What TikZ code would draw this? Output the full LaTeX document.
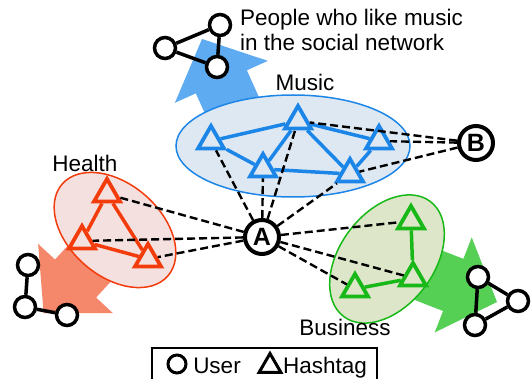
\documentclass[tikz,border=0pt]{standalone}
\usepackage{fontspec}
\setmainfont{Liberation Sans}
\usetikzlibrary{shapes.geometric}
\definecolor{musicline}{RGB}{28,134,232}
\definecolor{musicfill}{RGB}{222,232,243}
\definecolor{musicarrow}{RGB}{94,171,242}
\definecolor{healthline}{RGB}{242,60,12}
\definecolor{healthfill}{RGB}{244,225,223}
\definecolor{healtharrow}{RGB}{245,135,107}
\definecolor{businessline}{RGB}{23,184,23}
\definecolor{businessfill}{RGB}{222,230,201}
\definecolor{businessarrow}{RGB}{85,208,85}

\begin{document}
\begin{tikzpicture}[x=1pt,y=-1pt,
 hashtag/.style={regular polygon,regular polygon sides=3,draw,line width=3.8pt,inner sep=0pt,minimum size=30pt},
 user/.style={circle,draw,line width=3.5pt,fill=white,inner sep=0pt,minimum size=21pt},
 person/.style={circle,draw,line width=4pt,fill=white,inner sep=0pt,minimum size=34pt,font=\fontsize{25}{25}\selectfont\bfseries},
 follow/.style={dash pattern=on 8pt off 4pt,line width=2.4pt},
 cotag/.style={line width=3.5pt},
 title/.style={inner sep=0pt,font=\fontsize{22.5}{25}\selectfont}]
 \useasboundingbox (0,0) rectangle (532,379);
 \fill[musicarrow,shift={(202,39)},rotate=114.3] (0,0) -- (-47,51) -- (-47,28) -- (-115,28) -- (-115,-28) -- (-47,-28) -- (-47,-51) -- cycle;
 \fill[healtharrow,shift={(43.6,313)},rotate=-132.8] (0,0) -- (-47,51) -- (-47,28) -- (-115,28) -- (-115,-28) -- (-47,-28) -- (-47,-51) -- cycle;
 \fill[businessarrow,shift={(497,302)},rotate=-21.3] (0,0) -- (-47,51) -- (-47,28) -- (-115,28) -- (-115,-28) -- (-47,-28) -- (-47,-51) -- cycle;
 \draw[musicline,fill=musicfill,line width=1.5pt] (293,146) ellipse (117 and 51);
 \draw[healthline,fill=healthfill,line width=1.5pt,rotate around={-41:(115,230)}] (115,230) ellipse (70 and 46);
 \draw[businessline,fill=businessfill,line width=1.5pt,rotate around={53:(387,259)}] (387,259) ellipse (72 and 47);

 \node[user] (top1) at (220,25) {};
 \node[user] (top2) at (165,48) {};
 \node[user] (top3) at (217,67) {};
 \draw[cotag] (top1) -- (top2);
 \draw[cotag] (top2) -- (top3);
 \draw[cotag] (top1) -- (top3);
 \node[user] (left1) at (28,265) {};
 \node[user] (left2) at (25,307) {};
 \node[user] (left3) at (67,315) {};
 \draw[cotag] (left1) -- (left2);
 \draw[cotag] (left2) -- (left3);
 \node[user] (right1) at (478,277) {};
 \node[user] (right2) at (518,301) {};
 \node[user] (right3) at (475,325) {};
 \draw[cotag] (right1) -- (right2);
 \draw[cotag] (right1) -- (right3);
 \draw[cotag] (right3) -- (right2);

 \node[hashtag,musicline] (mu1) at (211,141) {};
 \node[hashtag,musicline] (mu2) at (298,121) {};
 \node[hashtag,musicline] (mu3) at (379,141) {};
 \node[hashtag,musicline] (mu4) at (263,169) {};
 \node[hashtag,musicline] (mu5) at (350,174) {};
 \node[hashtag,healthline] (he1) at (107,194) {};
 \node[hashtag,healthline] (he2) at (82,241) {};
 \node[hashtag,healthline] (he3) at (148,259) {};
 \node[hashtag,businessline] (bu1) at (411,221) {};
 \node[hashtag,businessline] (bu2) at (413,278) {};
 \node[hashtag,businessline] (bu3) at (355,289) {};
 \node[person] (A) at (262,237) {A};
 \node[person] (B) at (476,143) {B};

 \draw[cotag,musicline] (mu1) -- (mu2);
 \draw[cotag,musicline] (mu1) -- (mu4);
 \draw[cotag,musicline] (mu4) -- (mu2);
 \draw[cotag,musicline] (mu2) -- (mu5);
 \draw[cotag,musicline] (mu2) -- (mu3);
 \draw[cotag,musicline] (mu3) -- (mu5);
 \draw[cotag,musicline] (mu4) -- (mu5);
 \draw[cotag,healthline] (he1) -- (he2);
 \draw[cotag,healthline] (he1) -- (he3);
 \draw[cotag,healthline] (he2) -- (he3);
 \draw[cotag,businessline] (bu1) -- (bu2);
 \draw[cotag,businessline] (bu2) -- (bu3);

 \draw[follow] (A) -- (he1);
 \draw[follow] (A) -- (he2);
 \draw[follow] (A) -- (he3);
 \draw[follow] (A) -- (mu1);
 \draw[follow] (A) -- (mu4);
 \draw[follow] (A) -- (mu2);
 \draw[follow] (A) -- (mu5);
 \draw[follow] (A) -- (bu1);
 \draw[follow] (A) -- (bu2);
 \draw[follow] (A) -- (bu3);
 \draw[follow] (B) -- (mu2);
 \draw[follow] (B) -- (mu3);
 \draw[follow] (B) -- (mu5);

 \node[title,anchor=base] (music) at (305,91) {Music};
 \node[title,anchor=base] (health) at (85,172) {Health};
 \node[title,anchor=base] (business) at (345,335) {Business};
 \node[title,anchor=north west,align=left] (network) at (240,9) {People who like music\\in the social network};

 \draw[line width=1.5pt] (152,348) rectangle (377,390);
 \node[user,line width=3pt,minimum size=18pt] (keyuser) at (177,364) {};
 \node[title,anchor=base] (keyusertext) at (217,373) {User};
 \node[hashtag,line width=3pt,minimum size=25pt] (keytag) at (270,366) {};
 \node[title,anchor=base] (keytagtext) at (325,373) {Hashtag};
\end{tikzpicture}
\end{document}
